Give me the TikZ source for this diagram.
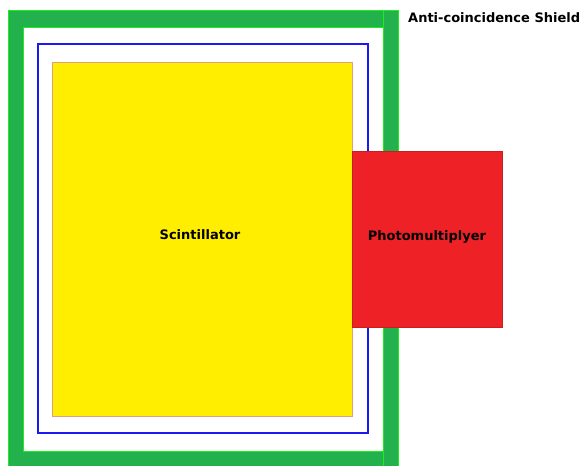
\documentclass[tikz,border=0pt]{standalone}
\usepackage{fontspec}
\setmainfont{DejaVu Sans}
\definecolor{shieldgreen}{HTML}{22B14C}
\definecolor{edgegreen}{HTML}{19F019}
\definecolor{scinyellow}{HTML}{FFEE00}
\definecolor{scinedge}{HTML}{E0A080}
\definecolor{pmtred}{HTML}{EE2226}
\definecolor{boxblue}{HTML}{1A1AF0}
\tikzset{
  shieldbar/.style={fill=shieldgreen, draw=edgegreen, line width=1pt},
  labeltext/.style={font=\bfseries\fontsize{13}{15}\selectfont, text=black, inner sep=0pt},
}
\begin{document}
\begin{tikzpicture}[x=1pt,y=-1pt]
\useasboundingbox[fill=white] (0,0) rectangle (584,466);
% shield frame
\path[shieldbar] (8,10) rectangle (398,466);
\path[fill=white, draw=edgegreen, line width=1pt] (23,27) rectangle (383,451);
\draw[edgegreen, line width=1pt] (383,10) -- (383,27);
\draw[edgegreen, line width=1pt] (383,451) -- (383,466);
% inner enclosure
\node[draw=boxblue, line width=1.3pt, minimum width=330pt, minimum height=389pt, inner sep=0pt] (enclosure) at (203,238.5) {};
% scintillator
\node[fill=scinyellow, draw=scinedge, line width=1pt, minimum width=300pt, minimum height=354pt, inner sep=0pt] (scint) at (202,239) {};
\node[labeltext] (scintlabel) at (200,235) {Scintillator};
% photomultiplier
\node[fill=pmtred, draw=pmtred!85!black, line width=0.6pt, minimum width=150pt, minimum height=176pt, inner sep=0pt] (pmt) at (427,239) {};
\node[labeltext] (pmtlabel) at (427,237) {Photomultiplyer};
% shield label
\node[labeltext, anchor=west] (shieldlabel) at (408,18) {Anti-coincidence Shield};
\end{tikzpicture}
\end{document}
